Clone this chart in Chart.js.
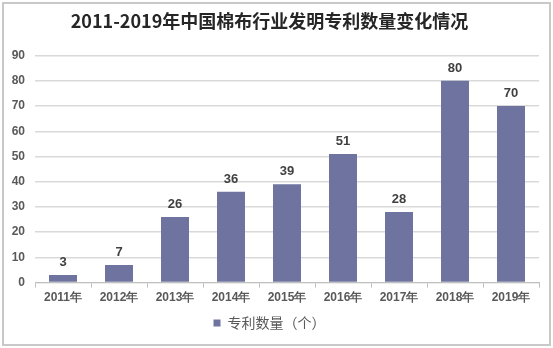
<!DOCTYPE html>
<html><head><meta charset="utf-8">
<script src="https://cdn.jsdelivr.net/npm/chart.js@4/dist/chart.umd.min.js"></script>
<style>
html,body{margin:0;padding:0;background:#fff;}
#wrap{position:absolute;left:2px;top:2px;width:545px;height:340px;border:2px solid #c8c8c8;}
#c{position:absolute;left:0;top:0;}
</style></head><body>
<div id="wrap"></div>
<canvas id="c" width="553" height="348"></canvas>
<script>
const categories = ["2011年","2012年","2013年","2014年","2015年","2016年","2017年","2018年","2019年"];
const patents = [3,7,26,36,39,51,28,80,70];
const yTicks = [0,10,20,30,40,50,60,70,80,90];
const seriesName = "专利数量（个）";
const titleText = "2011-2019年中国棉布行业发明专利数量变化情况";

const labelPlugin = {
  id:'vals',
  afterDatasetsDraw(chart){
    const ctx = chart.ctx;
    const meta = chart.getDatasetMeta(0);
    ctx.save();
    ctx.font = 'bold 13px "Liberation Sans", Arial, sans-serif';
    ctx.fillStyle = '#404040';
    ctx.textAlign = 'center';
    ctx.textBaseline = 'bottom';
    meta.data.forEach((bar,i)=>{
      ctx.fillText(String(chart.data.datasets[0].data[i]), bar.x, bar.y - 6);
    });
    ctx.restore();
  }
};

new Chart(document.getElementById('c'), {
  type:'bar',
  data:{labels:categories, datasets:[{label:seriesName, data:patents, backgroundColor:'#6e739f', barPercentage:0.5, categoryPercentage:1.0}]},
  options:{
    responsive:false, animation:false, devicePixelRatio:1,
    layout:{padding:{left:0,right:14,top:0,bottom:8}},
    plugins:{
      title:{display:true, text:titleText, color:'#262626', font:{family:'"Noto Sans CJK SC"', size:18, weight:'bold'}, padding:{top:10,bottom:24}},
      legend:{position:'bottom', labels:{boxWidth:7, boxHeight:7, color:'#595959', font:{family:'"Noto Sans CJK SC"', size:14}, padding:8}},
      tooltip:{enabled:false}
    },
    scales:{
      x:{
        grid:{drawOnChartArea:false, drawTicks:true, tickLength:5, color:'#bfbfbf', offset:true},
        border:{color:'#bfbfbf', width:1},
        ticks:{color:'#595959', font:{family:'"Liberation Sans", Arial, sans-serif', size:12, weight:'bold'}, padding:3, maxRotation:0}
      },
      y:{
        min:0, max:90,
        afterBuildTicks(axis){ axis.ticks = yTicks.map(v=>({value:v})); },
        afterFit(axis){ axis.width = 35; },
        grid:{color:'#d9d9d9', drawTicks:false, lineWidth:1.5},
        border:{display:false},
        ticks:{color:'#595959', font:{family:'"Liberation Sans", Arial, sans-serif', size:12, weight:'bold'}, padding:10}
      }
    }
  },
  plugins:[labelPlugin]
});
</script>
</body></html>
